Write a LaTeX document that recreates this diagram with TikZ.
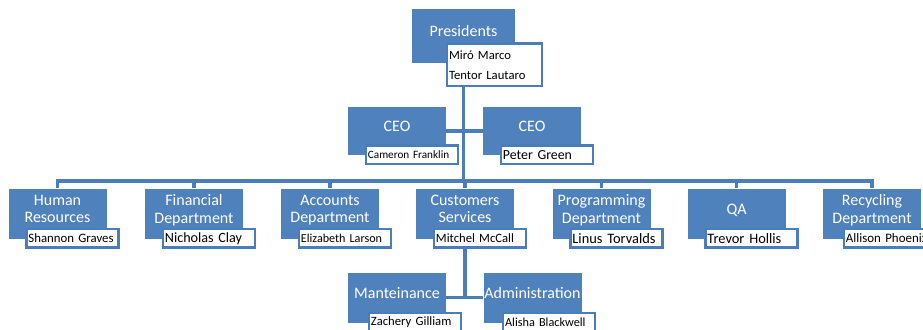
\documentclass[tikz,border=0pt]{standalone}
\usepackage{fontspec}
\setmainfont{Carlito}
\usepackage{tikz}
\usetikzlibrary{positioning, backgrounds}

\definecolor{boxblue}{HTML}{4F81BD}
\definecolor{lineblue}{HTML}{4A7EBB}

\tikzset{
    unit/.style={fill=boxblue, text=white, minimum width=73.5pt, minimum height=37.5pt,
        inner sep=0pt, align=center, text depth=7pt, font=\fontsize{12}{13}\selectfont},
    person/.style={draw=lineblue, line width=1.8pt, fill=white, text=black, anchor=north west,
        text width=66pt, inner xsep=1.5pt, inner ysep=1pt, minimum height=14pt, align=left,
        font=\fontsize{#1}{14}\selectfont},
    person/.default=9.5,
    link/.style={draw=lineblue, line width=2.5pt}
}

\begin{document}
\begin{tikzpicture}[x=0.75pt, y=-0.75pt]
            \useasboundingbox (0, 0) rectangle (923, 329);

            \node [unit, minimum width=77pt, minimum height=40.5pt] (pres) at (463.5, 36) {Presidents};
            \node [person, text width=68pt, minimum height=32pt, font=\fontsize{9.5}{15}\selectfont]
                (presN) at ([xshift=25.5pt, yshift=15.75pt] pres.south west) {Miró Marco\\Tentor Lautaro};

            \node [unit, minimum height=36pt] (ceoA) at (397, 131) {CEO};
            \node [unit, minimum height=36pt] (ceoB) at (532, 131) {CEO};
            \node [person=8.4] (ceoAN) at ([xshift=12.75pt, yshift=8.25pt] ceoA.south west) {Cameron Franklin};
            \node [person=10.4] (ceoBN) at ([xshift=12.75pt, yshift=8.25pt] ceoB.south west) {Peter Green};

            \coordinate (bus) at (463.5, 181);

            \node [unit] (hr) at (57.5, 213.5) {Human\\Resources};
            \node [unit] (fin) at (194, 213.5) {Financial\\Department};
            \node [unit] (acc) at (330, 213.5) {Accounts\\Department};
            \node [unit] (cust) at (465, 213.5) {Customers\\Services};
            \node [unit] (prog) at (601.5, 213.5) {Programming\\Department};
            \node [unit] (qa) at (736.5, 213.5) {QA};
            \node [unit] (rec) at (872, 213.5) {Recycling\\Department};

            \node [person=9.6] (hrN) at ([xshift=12.75pt, yshift=8.25pt] hr.south west) {Shannon Graves};
            \node [person=10.6] (finN) at ([xshift=12.75pt, yshift=8.25pt] fin.south west) {Nicholas Clay};
            \node [person=9.1] (accN) at ([xshift=12.75pt, yshift=8.25pt] acc.south west) {Elizabeth Larson};
            \node [person=9.5] (custN) at ([xshift=12.75pt, yshift=8.25pt] cust.south west) {Mitchel McCall};
            \node [person=10.8] (progN) at ([xshift=12.75pt, yshift=8.25pt] prog.south west) {Linus Torvalds};
            \node [person=10.8] (qaN) at ([xshift=12.75pt, yshift=8.25pt] qa.south west) {Trevor Hollis};
            \node [person=9.7] (recN) at ([xshift=15pt, yshift=8.25pt] rec.south west) {Allison Phoenix};

            \node [unit] (mant) at (397, 297.5) {Manteinance};
            \node [unit] (admin) at (532.5, 297.5) {Administration};
            \node [person=9.5] (mantN) at ([xshift=15pt, yshift=8.25pt] mant.south west) {Zachery Gilliam};
            \node [person=9.2] (adminN) at ([xshift=14pt, yshift=8.25pt] admin.south west) {Alisha Blackwell};

            \begin{scope}[on background layer]
                \draw [link] (pres.south) -- (bus);
                \draw [link] (ceoA.east) -- (ceoB.west);
                \foreach \d in {hr, fin, acc, cust, prog, qa, rec}
                    \draw [link] (\d.north) |- (bus);
                \draw [link] (cust.south) -- (cust.south |- mant.east);
                \draw [link] (mant.east) -- (admin.west);
            \end{scope}
        \end{tikzpicture}
\end{document}
